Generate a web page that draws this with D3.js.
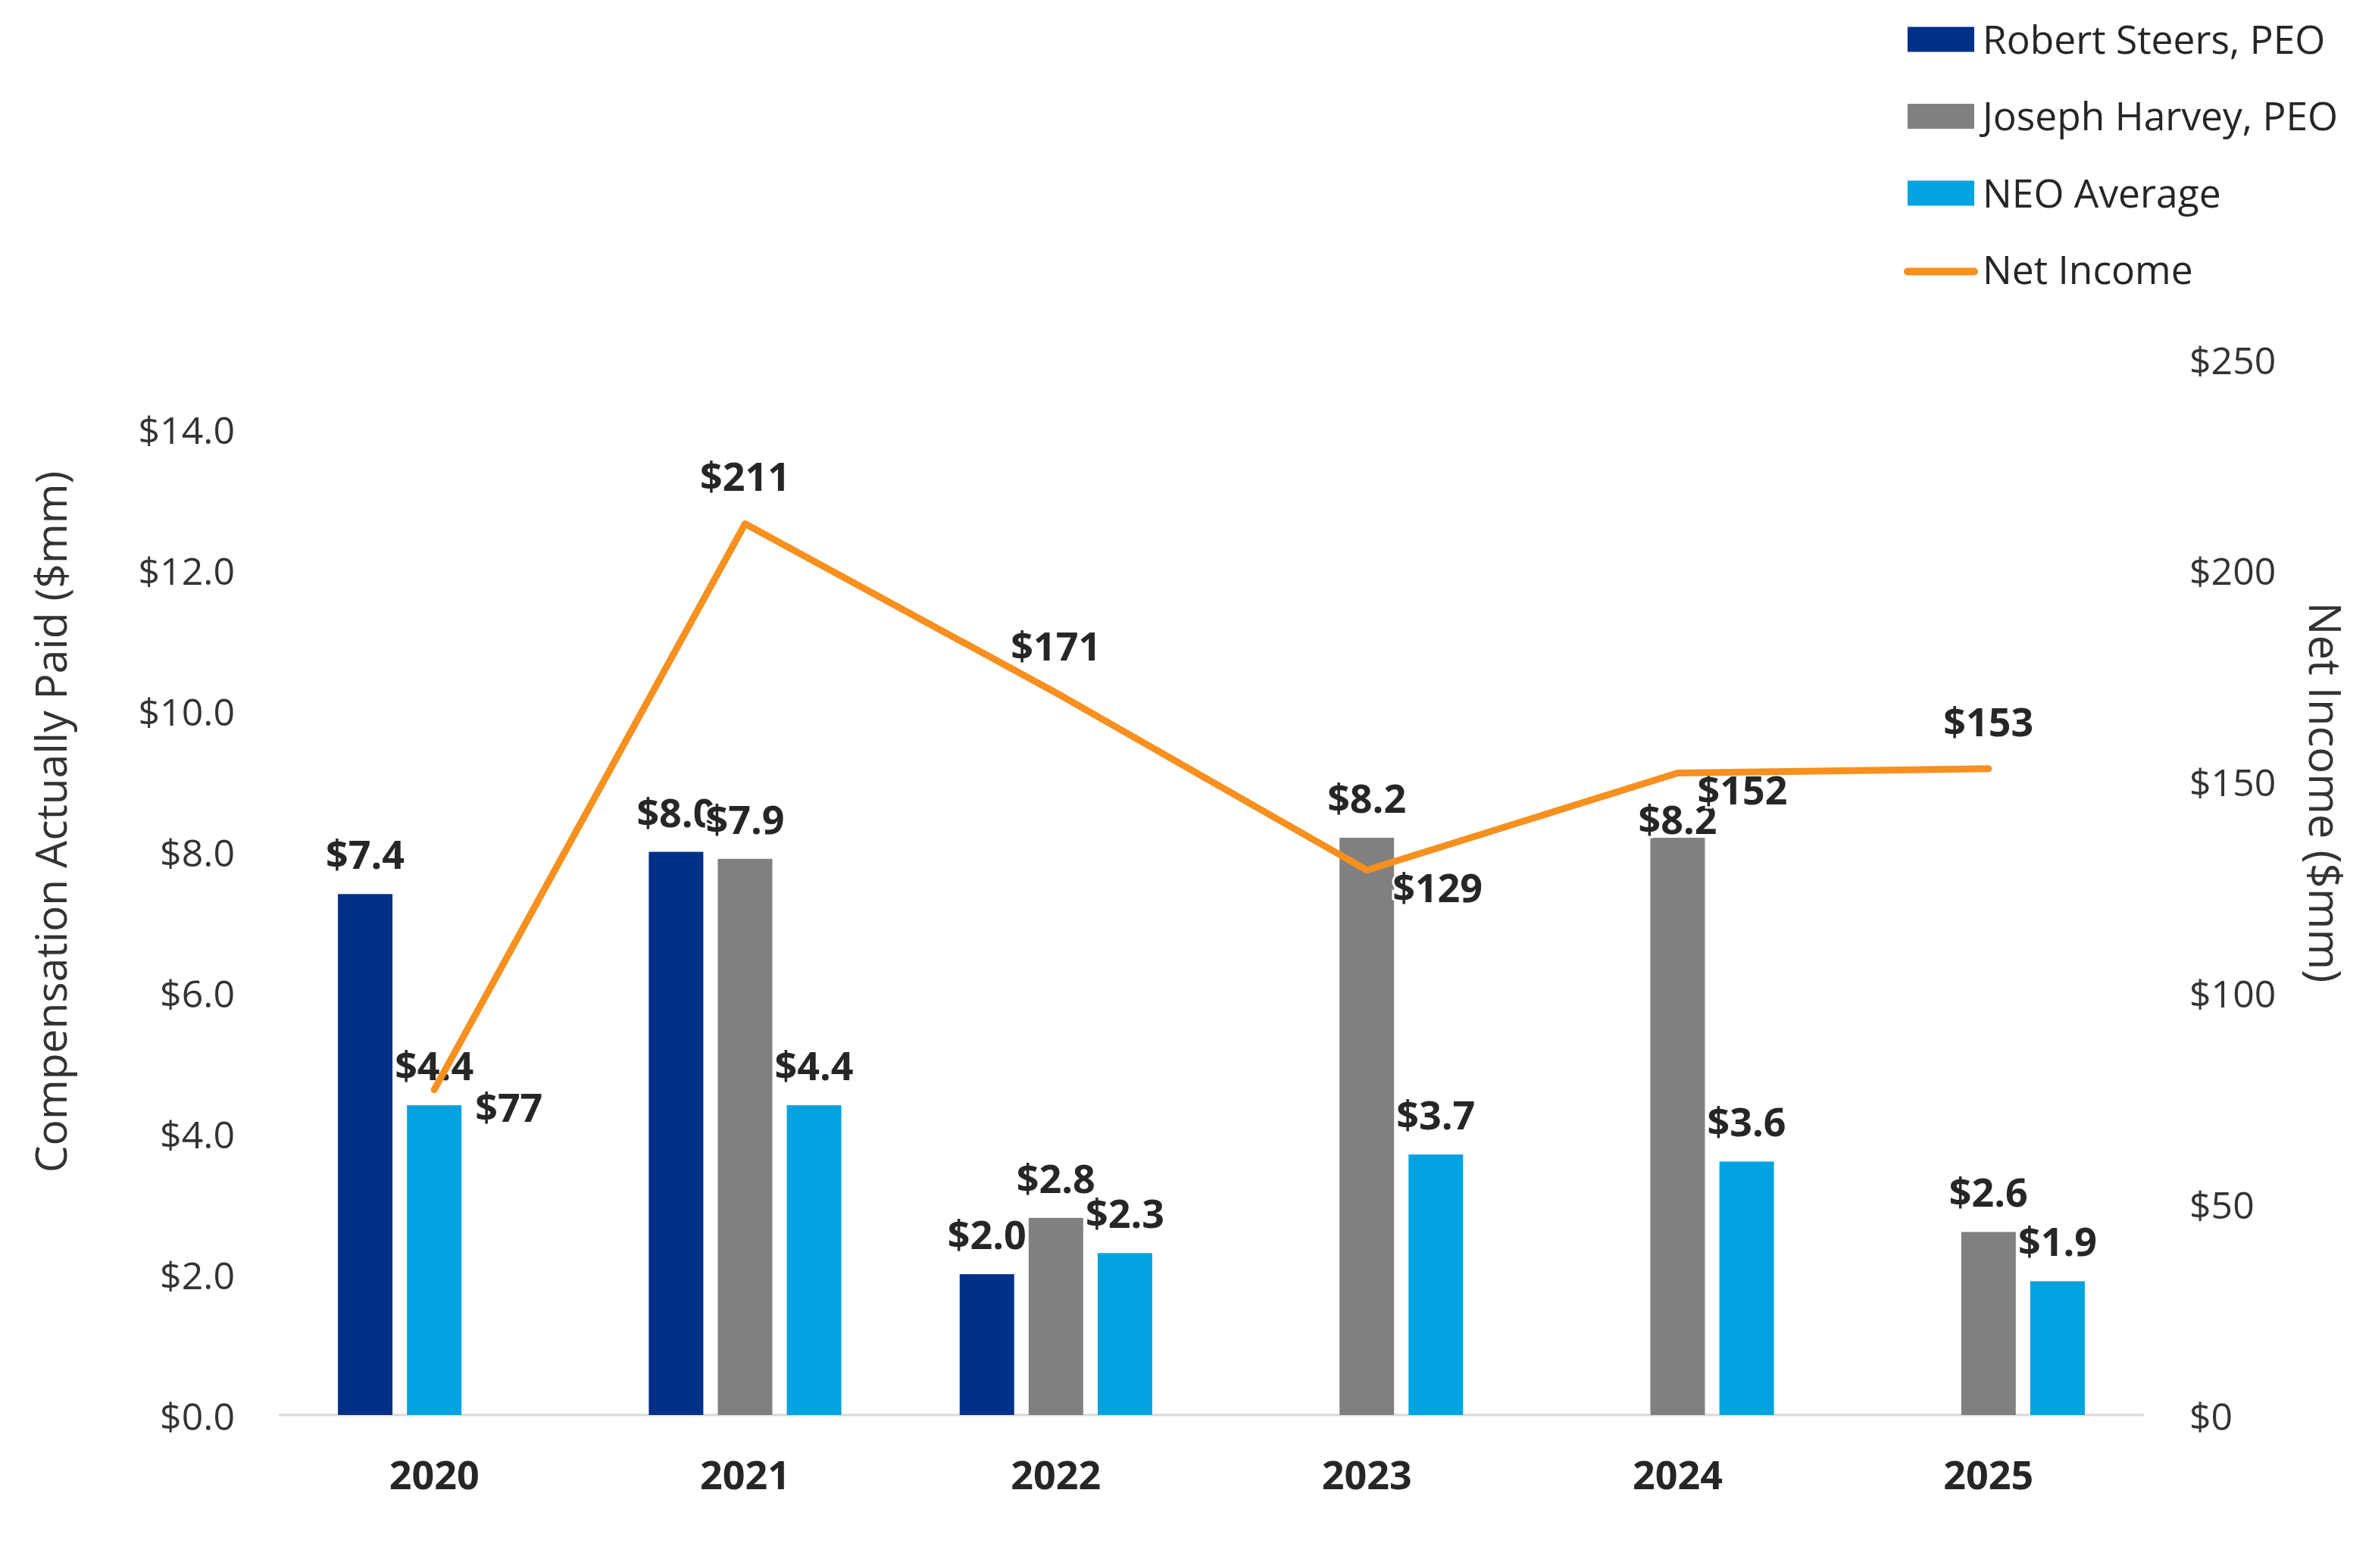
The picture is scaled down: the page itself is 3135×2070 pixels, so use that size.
<!DOCTYPE html>
<html><head><meta charset="utf-8">
<script src="https://cdn.jsdelivr.net/npm/d3@7"></script>
<style>
html,body{margin:0;padding:0;background:#fff;}
svg{display:block;font-family:"Open Sans","Noto Sans",sans-serif;}
</style></head><body>
<svg id="chart" width="3135" height="2070"></svg>
<script>
// ---------- data ----------
const years = ["2020", "2021", "2022", "2023", "2024", "2025"];
const seriesNames = ["Robert Steers, PEO", "Joseph Harvey, PEO", "NEO Average"];
const steersValues = [7.4, 8.0, 2.0, null, null, null];
const harveyValues = [null, 7.9, 2.8, 8.2, 8.2, 2.6];
const neoValues = [4.4, 4.4, 2.3, 3.7, 3.6, 1.9];
const netIncomeValues = [77, 211, 171, 129, 152, 153];
const lineSeriesName = "Net Income";
const leftTicks = [0, 2, 4, 6, 8, 10, 12, 14];
const rightTicks = [0, 50, 100, 150, 200, 250];
const leftTitle = "Compensation Actually Paid ($mm)";
const rightTitle = "Net Income ($mm)";

// ---------- styling / layout ----------
const colors = {"Robert Steers, PEO": "#003087", "Joseph Harvey, PEO": "#808080", "NEO Average": "#00A3E0"};
const lineColor = "#F7901E";
const textColor = "#262626";
const W = 3135, H = 2070;
const plot = {left: 368, right: 2830, top: 474, bottom: 1868};

// slot order inside a year's cluster (2020 places NEO in the middle slot)
const defaultOrder = seriesNames;
const orderByYear = {"2020": ["Robert Steers, PEO", "NEO Average", "Joseph Harvey, PEO"]};
// line label placement and horizontal gap for right-placed labels
const lineLabelPlacement = ["right", "above", "above", "right", "right", "above"];
const lineLabelGap = [54, 0, 0, 34, 26, 0];
// manual nudge of one bar label (moved down onto its bar in the original)
const barLabelNudge = {"2024|Joseph Harvey, PEO": 28};

const seriesValues = {
  "Robert Steers, PEO": steersValues,
  "Joseph Harvey, PEO": harveyValues,
  "NEO Average": neoValues
};

const svg = d3.select("#chart");
svg.append("rect").attr("width", W).attr("height", H).attr("fill", "#fff");

const x0 = d3.scaleBand().domain(years).range([plot.left, plot.right]).padding(0);
const x1 = d3.scaleBand().domain([0, 1, 2]).range([0, x0.bandwidth()])
  .paddingInner(0.21).paddingOuter(0.857);
const yL = d3.scaleLinear().domain([0, 15]).range([plot.bottom, plot.top]);
const yR = d3.scaleLinear().domain([0, 250]).range([plot.bottom, plot.top]);

// bar records
const bars = [];
years.forEach((yr, i) => {
  const order = orderByYear[yr] || defaultOrder;
  order.forEach((s, slot) => {
    const v = seriesValues[s][i];
    if (v != null) bars.push({year: yr, series: s, value: v, slot: slot});
  });
});

// baseline
svg.append("line")
  .attr("x1", plot.left).attr("x2", plot.right)
  .attr("y1", plot.bottom).attr("y2", plot.bottom)
  .attr("stroke", "#D9D9D9").attr("stroke-width", 3);

// bars
svg.append("g").selectAll("rect").data(bars).join("rect")
  .attr("x", d => x0(d.year) + x1(d.slot))
  .attr("width", x1.bandwidth())
  .attr("y", d => yL(d.value))
  .attr("height", d => plot.bottom - yL(d.value))
  .attr("fill", d => colors[d.series]);

// left axis
const fmtL = v => "$" + d3.format(".1f")(v);
const axL = svg.append("g").attr("transform", `translate(${plot.left},0)`)
  .call(d3.axisLeft(yL).tickValues(leftTicks).tickFormat(fmtL).tickSize(0).tickPadding(58));
axL.select(".domain").remove();
axL.selectAll("text").attr("font-size", 50).attr("fill", "#333").attr("dy", "0.38em")
  .attr("font-family", "'Open Sans', sans-serif");

// right axis
const fmtR = v => "$" + d3.format(".0f")(v);
const axR = svg.append("g").attr("transform", `translate(${plot.right},0)`)
  .call(d3.axisRight(yR).tickValues(rightTicks).tickFormat(fmtR).tickSize(0).tickPadding(60));
axR.select(".domain").remove();
axR.selectAll("text").attr("font-size", 50).attr("fill", "#333").attr("dy", "0.38em")
  .attr("font-family", "'Open Sans', sans-serif");

// bottom axis
const axB = svg.append("g").attr("transform", `translate(0,${plot.bottom})`)
  .call(d3.axisBottom(x0).tickSize(0).tickPadding(0));
axB.select(".domain").remove();
axB.selectAll("text").attr("font-size", 52).attr("font-weight", "bold").attr("fill", textColor)
  .attr("y", 98).attr("dy", 0).attr("font-family", "'Open Sans', sans-serif");

// axis titles
svg.append("text")
  .attr("transform", `translate(88,1085) rotate(-90)`)
  .attr("text-anchor", "middle").attr("font-size", 57).attr("fill", "#333")
  .text(leftTitle);
svg.append("text")
  .attr("transform", `translate(3048,1046) rotate(90)`)
  .attr("text-anchor", "middle").attr("font-size", 58).attr("fill", "#333")
  .text(rightTitle);

// bar labels
const fmtBar = v => "$" + d3.format(".1f")(v);
svg.append("g").selectAll("text").data(bars).join("text")
  .attr("x", d => x0(d.year) + x1(d.slot) + x1.bandwidth() / 2)
  .attr("y", d => yL(d.value) - 33 + (barLabelNudge[d.year + "|" + d.series] || 0))
  .attr("text-anchor", "middle")
  .attr("font-size", 52).attr("font-weight", "bold").attr("fill", textColor)
  .attr("stroke", "#fff").attr("stroke-width", 6).attr("paint-order", "stroke")
  .text(d => fmtBar(d.value));

// net income line
const linePts = years.map((yr, i) => ({year: yr, value: netIncomeValues[i], place: lineLabelPlacement[i], gap: lineLabelGap[i]}));
const xc = yr => x0(yr) + x0.bandwidth() / 2;
const lineGen = d3.line().x(d => xc(d.year)).y(d => yR(d.value));

// line labels
const fmtLine = v => "$" + d3.format(".0f")(v);
svg.append("g").selectAll("text").data(linePts).join("text")
  .attr("x", d => d.place === "right" ? xc(d.year) + d.gap : xc(d.year))
  .attr("y", d => d.place === "right" ? yR(d.value) + 42 : yR(d.value) - 43)
  .attr("text-anchor", d => d.place === "right" ? "start" : "middle")
  .attr("font-size", 52).attr("font-weight", "bold").attr("fill", textColor)
  .attr("stroke", "#fff").attr("stroke-width", 6).attr("paint-order", "stroke")
  .text(d => fmtLine(d.value));

svg.append("path").datum(linePts)
  .attr("d", lineGen).attr("fill", "none")
  .attr("stroke", lineColor).attr("stroke-width", 9)
  .attr("stroke-linecap", "round").attr("stroke-linejoin", "round");

// legend
const legendItems = seriesNames.map(s => ({name: s, type: "bar"})).concat([{name: lineSeriesName, type: "line"}]);
const lg = svg.append("g");
const rowH = 101.5, lgX = 2518, lgY0 = 52;
legendItems.forEach((it, i) => {
  const cy = lgY0 + i * rowH;
  if (it.type === "bar") {
    lg.append("rect").attr("x", lgX).attr("y", cy - 16.5).attr("width", 88).attr("height", 33)
      .attr("fill", colors[it.name]);
  } else {
    lg.append("line").attr("x1", lgX).attr("x2", lgX + 88).attr("y1", cy + 2).attr("y2", cy + 2)
      .attr("stroke", lineColor).attr("stroke-width", 10).attr("stroke-linecap", "round");
  }
  lg.append("text").attr("x", lgX + 99).attr("y", cy).attr("dy", "0.36em")
    .attr("font-size", 51.5).attr("fill", textColor).text(it.name);
});
</script>
</body></html>
